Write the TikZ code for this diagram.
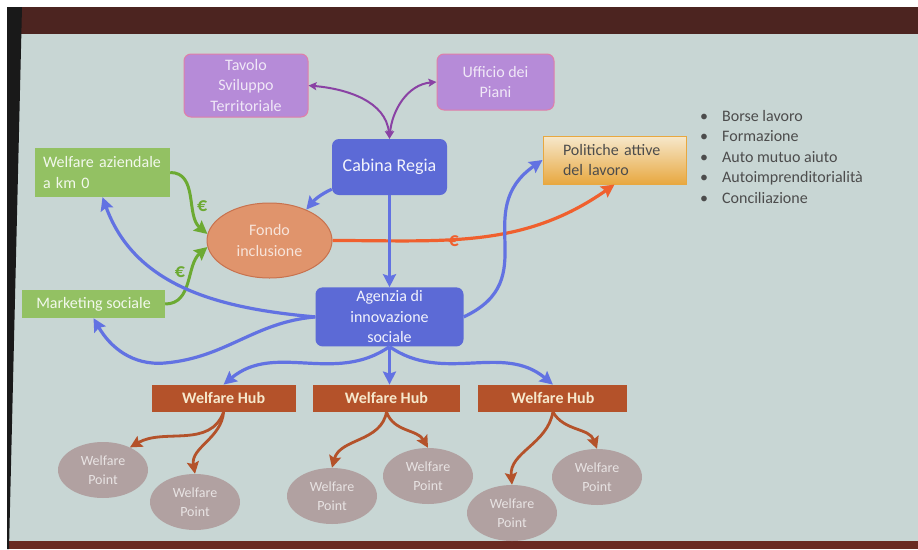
\documentclass[tikz,border=0pt]{standalone}
\usepackage{fontspec}
\setmainfont{Carlito}
\usetikzlibrary{shapes,arrows,arrows.meta}
\usetikzlibrary{positioning}

\definecolor{slide}{HTML}{C8D6D4}
\definecolor{band}{HTML}{4C2420}
\definecolor{bandlow}{HTML}{6A2A22}
\definecolor{lilac}{HTML}{B68BD8}
\definecolor{lilacline}{HTML}{E07FA8}
\definecolor{regia}{HTML}{5C6AD6}
\definecolor{regiaarrow}{HTML}{6272E2}
\definecolor{leaf}{HTML}{93C163}
\definecolor{leafarrow}{HTML}{6CAA32}
\definecolor{salmon}{HTML}{E0946C}
\definecolor{salmonline}{HTML}{C8724E}
\definecolor{flame}{HTML}{F0602E}
\definecolor{gold}{HTML}{E8A840}
\definecolor{cream}{HTML}{F6E8CC}
\definecolor{rust}{HTML}{B4522A}
\definecolor{mauve}{HTML}{B1A1A1}
\definecolor{plum}{HTML}{8A42A4}
\definecolor{ink}{HTML}{4C4C4C}

\newcommand{\bul}[1]{\makebox[22pt][l]{\textbullet}#1}

\tikzset{
  big/.style={font=\fontsize{16}{20.5}\selectfont},
  euro/.style={font=\fontsize{20}{20}\selectfont\bfseries, inner sep=0pt},
  lilacbox/.style={rectangle, rounded corners=7pt, draw=lilacline, line width=1pt,
    fill=lilac, text=lilac!20!white, align=center, inner sep=2pt, big},
  regiabox/.style={rectangle, rounded corners=7pt, fill=regia, text=white!92!regia,
    align=center, inner sep=2pt, big},
  leafbox/.style={rectangle, fill=leaf, text=white!88!leaf, inner sep=2pt, big},
  fund/.style={ellipse, draw=salmonline, line width=1pt, fill=salmon,
    text=white!75!salmon, align=center, inner sep=0pt, big},
  goal/.style={rectangle, draw=gold, line width=1pt, top color=cream, bottom color=gold,
    text=ink, align=left, text width=103pt, inner xsep=20pt, big},
  hub/.style={rectangle, fill=rust, text=cream, minimum height=27pt,
    inner sep=0pt, font=\fontsize{16}{20}\selectfont\bfseries},
  point/.style={ellipse, fill=mauve, text=white!70!mauve, align=center,
    minimum width=90pt, minimum height=56pt, inner sep=0pt,
    font=\fontsize{14}{19}\selectfont},
  flow/.style={-{Stealth[length=13pt, width=13pt, inset=2pt]}, line width=3.2pt, regiaarrow},
  duo/.style={{Stealth[length=8pt, width=8pt, inset=1.5pt]}-{Stealth[length=8pt, width=8pt, inset=1.5pt]}, line width=2pt, plum},
  money/.style={-{Stealth[length=13pt, width=13pt, inset=2pt]}, line width=3pt, leafarrow},
  spend/.style={-{Stealth[length=13pt, width=13pt, inset=2pt]}, line width=3.2pt, flame},
  branch/.style={-{Stealth[length=12pt, width=12pt, inset=2pt]}, line width=2.8pt, rust}
}

\begin{document}
\begin{tikzpicture}[x=1pt, y=-1pt]
  % slide and screen edges
  \useasboundingbox (0,0) rectangle (918,549);
  \fill[white] (0,0) rectangle (918,549);
  \fill[slide] (7,7) rectangle (918,549);
  \fill[band] (7,7) rectangle (918,34);
  \fill[bandlow] (7,541) rectangle (918,549);
  \fill[black!90] (7,7) -- (22,7) -- (9,549) -- (7,549) -- cycle;

  % top row
  \node[regiabox, minimum width=115pt, minimum height=56pt, font=\fontsize{18}{22}\selectfont] (cabina) at (389.5,167) {Cabina Regia};
  \node[lilacbox, minimum width=124pt, minimum height=63pt] (tavolo) at (246,85.5) {Tavolo\\Sviluppo\\Territoriale};
  \node[lilacbox, minimum width=117pt, minimum height=56pt] (ufficio) at (495.5,82) {Ufficio dei\\Piani};

  \path[duo]
  (tavolo.east) edge[out=-5, in=95] (cabina.north)
  (ufficio.west) edge[out=185, in=85] (cabina.north);

  % funds and policies
  \node[leafbox, minimum width=135pt, minimum height=49pt, align=left, text width=119pt, inner xsep=8pt] (aziendale) at (102.5,172.5) {Welfare aziendale\\a km 0};
  \node[leafbox, minimum width=143pt, minimum height=28pt] (marketing) at (93.5,304) {Marketing sociale};
  \node[fund, minimum width=125pt, minimum height=75pt] (fondo) at (269.5,240.5) {Fondo\\inclusione};
  \node[goal, minimum height=48pt] (politiche) at (614.5,160) {Politiche attive\\del lavoro};
  \node[text=ink, align=left, anchor=west, inner sep=0pt, big] (lista) at (700,157) {%
    \bul{Borse lavoro}\\\bul{Formazione}\\\bul{Auto mutuo aiuto}\\\bul{Autoimprenditorialità}\\\bul{Conciliazione}};

  \node[regiabox, minimum width=148pt, minimum height=59pt] (agenzia) [below=92pt of cabina] {Agenzia di\\innovazione\\sociale};

  \draw[money] (aziendale.east) to[out=0, in=140] node[pos=0.62, right=2pt, euro] (euroa) {€} (fondo.174);
  \draw[money] (marketing.east) to[out=0, in=-140] node[pos=0.64, left=6pt, euro] (eurob) {€} (fondo.186);
  \draw[spend] (fondo.east) to[out=0, in=215] node[pos=0.4, below=-5pt, euro] (euroc) {€} (politiche.south);

  \draw[flow] (cabina) -- (agenzia);
  \draw[flow] (cabina.201) to[out=205, in=50] (fondo.40);
  \draw[flow] (agenzia.west) to[out=175, in=-70] (aziendale.south);
  \coordinate (dip) at (165,363);
  \draw[flow] (agenzia.west) to[out=185, in=5] (dip) to[out=185, in=-60] (marketing.south);
  \draw[flow] (agenzia.east) to[out=25, in=215, looseness=1.3] (politiche.west);

  % hubs
  \node[hub, minimum width=147pt] (hub2) [below=38pt of agenzia, xshift=-3pt] {Welfare Hub};
  \node[hub, minimum width=144pt] (hub1) [left=17pt of hub2] {Welfare Hub};
  \node[hub, minimum width=149pt] (hub3) [right=18pt of hub2] {Welfare Hub};

  \draw[flow] (agenzia.south) to[out=-145, in=40] (hub1.north);
  \draw[flow] (agenzia.south) -- (agenzia.south |- hub2.north);
  \draw[flow] (agenzia.south) to[out=-35, in=140] (hub3.north);

  % points
  \node[point] (wp1) at (103,470) {Welfare\\Point};
  \node[point] (wp2) at (195,502) {Welfare\\Point};
  \node[point] (wp3) at (332,496) {Welfare\\Point};
  \node[point] (wp4) at (428,476) {Welfare\\Point};
  \node[point] (wp5) at (512,513) {Welfare\\Point};
  \node[point] (wp6) at (597,477) {Welfare\\Point};

  \path[branch]
  (hub1.south) edge[out=-110, in=30] (wp1.40)
  (hub1.south) edge[out=-95, in=100] (wp2.north)
  (hub2.south) edge[out=-100, in=75] (wp3.north)
  (hub2.south) edge[out=-70, in=120] (wp4.north)
  (hub3.south) edge[out=-100, in=95] (wp5.north)
  (hub3.south) edge[out=-60, in=110] (wp6.north);
\end{tikzpicture}
\end{document}
